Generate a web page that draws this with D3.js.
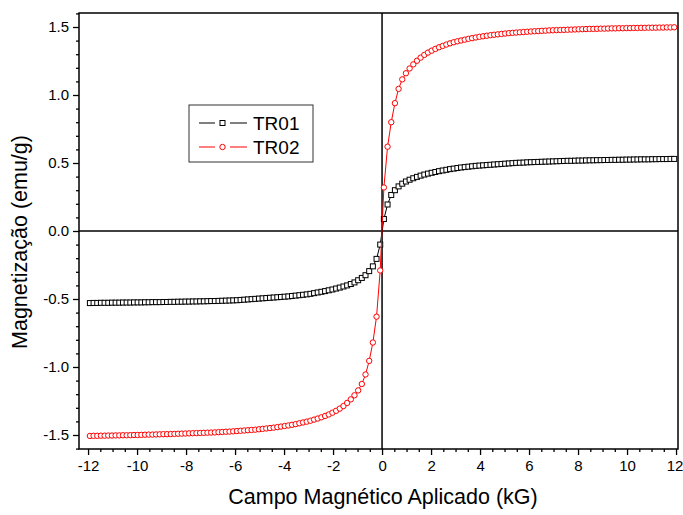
<!DOCTYPE html>
<html><head><meta charset="utf-8">
<script src="https://cdn.jsdelivr.net/npm/d3@7"></script>
<style>body{margin:0;background:#fff}svg{display:block}</style>
</head><body>
<svg id="c" width="683" height="515"></svg>
<script>
const field = [-11.925,-11.775,-11.625,-11.475,-11.325,-11.175,-11.025,-10.875,-10.725,-10.575,-10.425,-10.275,-10.125,-9.975,-9.825,-9.675,-9.525,-9.375,-9.225,-9.075,-8.925,-8.775,-8.625,-8.475,-8.325,-8.175,-8.025,-7.875,-7.725,-7.575,-7.425,-7.275,-7.125,-6.975,-6.825,-6.675,-6.525,-6.375,-6.225,-6.075,-5.925,-5.775,-5.625,-5.475,-5.325,-5.175,-5.025,-4.875,-4.725,-4.575,-4.425,-4.275,-4.125,-3.975,-3.825,-3.675,-3.525,-3.375,-3.225,-3.075,-2.925,-2.775,-2.625,-2.475,-2.325,-2.175,-2.025,-1.875,-1.725,-1.575,-1.425,-1.275,-1.125,-0.975,-0.825,-0.675,-0.525,-0.375,-0.225,-0.075,
0.075,0.225,0.375,0.525,0.675,0.825,0.975,1.125,1.275,1.425,1.575,1.725,1.875,2.025,2.175,2.325,2.475,2.625,2.775,2.925,3.075,3.225,3.375,3.525,3.675,3.825,3.975,4.125,4.275,4.425,4.575,4.725,4.875,5.025,5.175,5.325,5.475,5.625,5.775,5.925,6.075,6.225,6.375,6.525,6.675,6.825,6.975,7.125,7.275,7.425,7.575,7.725,7.875,8.025,8.175,8.325,8.475,8.625,8.775,8.925,9.075,9.225,9.375,9.525,9.675,9.825,9.975,10.125,10.275,10.425,10.575,10.725,10.875,11.025,11.175,11.325,11.475,11.625,11.775,11.925];

const tr01 = [-0.53,-0.529,-0.529,-0.528,-0.528,-0.528,-0.527,-0.527,-0.527,-0.526,
-0.526,-0.526,-0.525,-0.525,-0.525,-0.524,-0.524,-0.523,-0.523,-0.523,
-0.522,-0.522,-0.521,-0.521,-0.52,-0.52,-0.519,-0.519,-0.518,-0.518,
-0.517,-0.517,-0.516,-0.515,-0.515,-0.514,-0.513,-0.512,-0.511,-0.51,
-0.509,-0.507,-0.505,-0.503,-0.501,-0.499,-0.497,-0.495,-0.493,-0.491,
-0.489,-0.487,-0.485,-0.483,-0.481,-0.478,-0.475,-0.472,-0.469,-0.466,
-0.462,-0.457,-0.452,-0.447,-0.442,-0.436,-0.43,-0.423,-0.416,-0.408,
-0.40,-0.39,-0.378,-0.362,-0.345,-0.325,-0.295,-0.26,-0.205,-0.10,
0.088,0.195,0.265,0.30,0.328,0.348,0.364,0.377,0.388,0.398,
0.407,0.415,0.422,0.428,0.434,0.44,0.445,0.45,0.455,0.459,
0.463,0.467,0.47,0.473,0.476,0.479,0.481,0.483,0.485,0.487,
0.489,0.491,0.493,0.495,0.497,0.499,0.501,0.502,0.503,0.505,
0.506,0.507,0.508,0.509,0.51,0.511,0.512,0.513,0.514,0.515,
0.516,0.516,0.517,0.518,0.518,0.519,0.52,0.52,0.521,0.521,
0.522,0.522,0.523,0.523,0.524,0.524,0.525,0.525,0.526,0.526,
0.527,0.527,0.527,0.528,0.528,0.529,0.529,0.529,0.53,0.53];

const tr02 = [-1.507,-1.506,-1.506,-1.505,-1.505,-1.504,-1.504,-1.503,-1.503,-1.502,
-1.502,-1.501,-1.500,-1.500,-1.499,-1.498,-1.497,-1.497,-1.496,-1.495,
-1.494,-1.494,-1.493,-1.492,-1.491,-1.490,-1.489,-1.488,-1.487,-1.486,
-1.485,-1.484,-1.483,-1.482,-1.481,-1.479,-1.478,-1.476,-1.475,-1.473,
-1.471,-1.469,-1.467,-1.465,-1.463,-1.461,-1.458,-1.455,-1.452,-1.449,
-1.446,-1.442,-1.438,-1.434,-1.430,-1.425,-1.420,-1.414,-1.408,-1.402,
-1.395,-1.387,-1.379,-1.370,-1.360,-1.349,-1.336,-1.322,-1.306,-1.287,
-1.264,-1.238,-1.208,-1.172,-1.125,-1.055,-0.955,-0.82,-0.63,-0.29,
0.32,0.62,0.80,0.94,1.045,1.115,1.16,1.195,1.225,1.252,
1.275,1.295,1.312,1.326,1.339,1.351,1.361,1.371,1.38,1.388,
1.395,1.401,1.407,1.413,1.418,1.423,1.428,1.432,1.436,1.44,
1.443,1.446,1.449,1.452,1.455,1.457,1.459,1.461,1.463,1.465,
1.467,1.469,1.47,1.472,1.473,1.475,1.476,1.477,1.478,1.479,
1.48,1.481,1.482,1.483,1.484,1.485,1.486,1.486,1.487,1.488,
1.488,1.489,1.49,1.49,1.491,1.491,1.492,1.492,1.493,1.493,
1.494,1.494,1.495,1.495,1.495,1.496,1.496,1.497,1.497,1.498];

const seriesNames = ["TR01", "TR02"];
const seriesColors = ["#000000", "#ff0000"];
const xTicks = [-12,-10,-8,-6,-4,-2,0,2,4,6,8,10,12];
const yTicks = [-1.5,-1.0,-0.5,0.0,0.5,1.0,1.5];
const xTitle = "Campo Magnético Aplicado (kG)";
const yTitle = "Magnetização (emu/g)";

const L = 79, R = 678, T = 13, B = 449;
const x = d3.scaleLinear().domain([-12.37, 12.08]).range([L, R]);
const y = d3.scaleLinear().domain([-1.603, 1.603]).range([B, T]);
const svg = d3.select("#c");
const font = "'Liberation Sans', Arial, sans-serif";
const hy = f => (v => f(v).replace("\u2212", "-"));

// minor ticks
const xMinor = d3.range(-12, 12.01, 0.5).filter(v => Math.abs(v/2 - Math.round(v/2)) > 1e-6);
const yMinor = d3.range(-16, 17, 1).map(v => v/10).filter(v => Math.abs(v*2 - Math.round(v*2)) > 1e-6);

const gx = svg.append("g").attr("transform", `translate(0,${B})`);
gx.call(d3.axisBottom(x).tickValues(xMinor).tickSize(3).tickFormat(""))
  .call(g => g.select(".domain").remove());
gx.append("g").call(d3.axisBottom(x).tickValues(xTicks).tickSize(6).tickPadding(5).tickFormat(hy(d3.format("d"))))
  .call(g => g.select(".domain").remove());
gx.selectAll("text").attr("font-family", font).attr("font-size", 15).attr("fill", "#000");
gx.selectAll(".tick text").filter(d => d === 12).attr("dx", -1.5);
gx.selectAll("line").attr("stroke", "#000").attr("stroke-width", 1.3);

const gy = svg.append("g").attr("transform", `translate(${L},0)`);
gy.call(d3.axisLeft(y).tickValues(yMinor.filter(v => v >= -1.6 && v <= 1.6)).tickSize(3).tickFormat(""))
  .call(g => g.select(".domain").remove());
gy.append("g").call(d3.axisLeft(y).tickValues(yTicks).tickSize(6).tickPadding(4).tickFormat(hy(d3.format(".1f"))))
  .call(g => g.select(".domain").remove());
gy.selectAll("text").attr("font-family", font).attr("font-size", 15).attr("fill", "#000");
gy.selectAll("line").attr("stroke", "#000").attr("stroke-width", 1.3);

// zero lines
svg.append("line").attr("x1", L).attr("x2", R).attr("y1", y(0)).attr("y2", y(0)).attr("stroke", "#000").attr("stroke-width", 1.5);
svg.append("line").attr("x1", x(0)).attr("x2", x(0)).attr("y1", T).attr("y2", B).attr("stroke", "#000").attr("stroke-width", 1.5);

const line = d3.line().x(d => x(d[0])).y(d => y(d[1]));
const d1 = field.map((f, i) => [f, tr01[i]]);
const d2 = field.map((f, i) => [f, tr02[i]]);

svg.append("path").datum(d1).attr("d", line).attr("fill", "none").attr("stroke", seriesColors[0]).attr("stroke-width", 1);
svg.selectAll("rect.m1").data(d1).enter().append("rect").attr("class", "m1")
  .attr("x", d => x(d[0]) - 2.5).attr("y", d => y(d[1]) - 2.5).attr("width", 5).attr("height", 5)
  .attr("fill", "#fff").attr("stroke", seriesColors[0]).attr("stroke-width", 1);

svg.append("path").datum(d2).attr("d", line).attr("fill", "none").attr("stroke", seriesColors[1]).attr("stroke-width", 1);
svg.selectAll("circle.m2").data(d2).enter().append("circle").attr("class", "m2")
  .attr("cx", d => x(d[0])).attr("cy", d => y(d[1])).attr("r", 2.7)
  .attr("fill", "#fff").attr("stroke", seriesColors[1]).attr("stroke-width", 1);

// frame
svg.append("rect").attr("x", L).attr("y", T).attr("width", R - L).attr("height", B - T)
  .attr("fill", "none").attr("stroke", "#000").attr("stroke-width", 1.5);

// titles
svg.append("text").attr("x", 383).attr("y", 504).attr("text-anchor", "middle")
  .attr("font-family", font).attr("font-size", 21.5).attr("fill", "#000").text(xTitle);
svg.append("text").attr("transform", `translate(27,242) rotate(-90)`).attr("text-anchor", "middle")
  .attr("font-family", font).attr("font-size", 21.5).attr("fill", "#000").text(yTitle);

// legend
const lg = svg.append("g");
lg.append("rect").attr("x", 189).attr("y", 105).attr("width", 124).attr("height", 57)
  .attr("fill", "#fff").attr("stroke", "#333").attr("stroke-width", 1);
seriesNames.forEach((name, i) => {
  const yy = 123 + i * 24;
  lg.append("line").attr("x1", 199).attr("x2", 215).attr("y1", yy).attr("y2", yy).attr("stroke", seriesColors[i]).attr("stroke-width", 1);
  lg.append("line").attr("x1", 230).attr("x2", 247).attr("y1", yy).attr("y2", yy).attr("stroke", seriesColors[i]).attr("stroke-width", 1);
  if (i === 0) {
    lg.append("rect").attr("x", 220).attr("y", yy - 2.5).attr("width", 5).attr("height", 5).attr("fill", "#fff").attr("stroke", seriesColors[i]);
  } else {
    lg.append("circle").attr("cx", 222.5).attr("cy", yy).attr("r", 2.7).attr("fill", "#fff").attr("stroke", seriesColors[i]);
  }
  lg.append("text").attr("x", 253).attr("y", yy + 7).attr("font-family", font).attr("font-size", 19).attr("fill", "#000").text(name);
});
</script>
</body></html>
